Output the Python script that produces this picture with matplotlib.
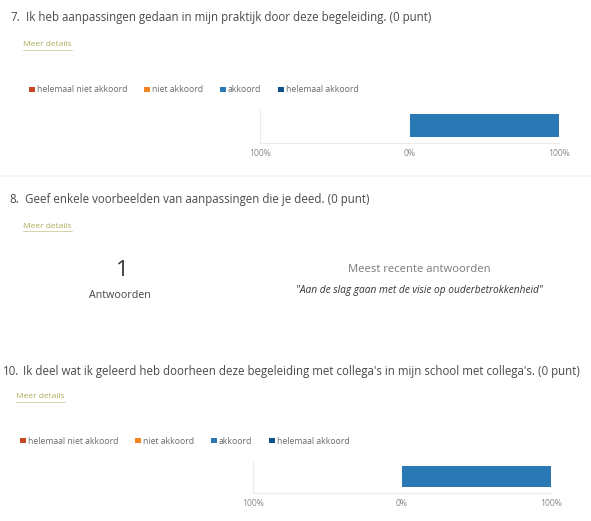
import matplotlib
matplotlib.use("Agg")
import matplotlib.pyplot as plt

plt.rcParams['font.family'] = ['Open Sans', 'DejaVu Sans']

# ---------------- data ----------------
categories = ["helemaal niet akkoord", "niet akkoord", "akkoord", "helemaal akkoord"]
cat_colors = ["#c8471f", "#f5831f", "#2b79b4", "#10508c"]
q7_values = [0, 0, 100, 0]     # percent
q10_values = [0, 0, 100, 0]    # percent
tick_values = [-100, 0, 100]
tick_labels = ["100%", "0%", "100%"]

q7_num, q7_title = "7.", "Ik heb aanpassingen gedaan in mijn praktijk door deze begeleiding. (0 punt)"
q8_num, q8_title = "8.", "Geef enkele voorbeelden van aanpassingen die je deed. (0 punt)"
q10_num, q10_title = "10.", "Ik deel wat ik geleerd heb doorheen deze begeleiding met collega's in mijn school met collega's. (0 punt)"
q8_count = 1
q8_count_label = "Antwoorden"
q8_recent_label = "Meest recente antwoorden"
q8_answers = ["\"Aan de slag gaan met de visie op ouderbetrokkenheid\""]
link_text = "Meer details"

W, H = 591, 521
fig = plt.figure(figsize=(W / 100, H / 100), dpi=100)
bg = fig.add_axes([0, 0, 1, 1])
bg.set_xlim(0, W)
bg.set_ylim(H, 0)
bg.axis("off")

TITLE_C = "#4a4a4a"
LINK_C = "#abad58"


def title(num, text, xn, xt, y):
    bg.text(xn, y + 3, num, fontsize=8.3, color=TITLE_C, va="baseline", ha="left")
    bg.text(xt, y + 3, text, fontsize=8.3, color=TITLE_C, va="baseline", ha="left")


def link(x, y):
    t = bg.text(x, y, link_text, fontsize=6.0, color=LINK_C, va="center", ha="left")
    fig.canvas.draw()
    bb = t.get_window_extent().transformed(bg.transData.inverted())
    bg.plot([bb.x0, bb.x1], [y + 4.5, y + 4.5], color=LINK_C, lw=0.5, alpha=0.7)


def px_axes(x0, x1, ytop, ybot):
    return fig.add_axes([x0 / W, 1 - ybot / H, (x1 - x0) / W, (ybot - ytop) / H])


def diverging(ax, values, legend_x, legend_y):
    handles = []
    # negatives: niet akkoord next to zero, helemaal niet further out
    lefts = [-values[1] - values[0], -values[1], 0, values[2]]
    for cat, col, v, l in zip(categories, cat_colors, values, lefts):
        b = ax.barh(0, v, left=l, height=0.7, color=col, label=cat,
                    edgecolor="none", linewidth=0)
        handles.append(b)
    ax.set_xlim(tick_values[0], tick_values[-1])
    ax.set_ylim(-0.53, 0.47)
    ax.set_xticks(tick_values)
    ax.set_xticklabels(tick_labels)
    ax.set_yticks([])
    ax.tick_params(axis="x", length=0, pad=4.0, labelsize=6.2, labelcolor="#8a8a8a")
    for s in ["top", "right"]:
        ax.spines[s].set_visible(False)
    for s in ["left", "bottom"]:
        ax.spines[s].set_color("#ececec")
        ax.spines[s].set_linewidth(0.8)
    leg = fig.legend(handles=handles, labels=categories, loc="center left",
                     bbox_to_anchor=(legend_x / W, 1 - legend_y / H), ncol=4,
                     frameon=False, fontsize=6.2, handlelength=0.66, handleheight=0.66,
                     handletextpad=0.25, columnspacing=1.95, borderpad=0, borderaxespad=0)
    for t in leg.get_texts():
        t.set_color("#6a6a6a")


# ---------- Q7 ----------
title(q7_num, q7_title, 10, 26, 18)
link(23, 45)
ax7 = px_axes(260, 559, 110, 143)
diverging(ax7, q7_values, 29, 90)

# separator
bg.plot([2, W], [176, 176], color="#f4f4f4", lw=1.5, solid_capstyle="round")

# ---------- Q8 ----------
title(q8_num, q8_title, 9, 25, 200)
link(23, 226)
bg.text(122, 271, str(q8_count), fontsize=16, color="#333333", ha="center", va="center")
bg.text(120, 295, q8_count_label, fontsize=7.7, color="#444444", ha="center", va="center")
bg.text(419, 270, q8_recent_label, fontsize=8.1, color="#7a7a7a", ha="center", va="center")
for i, a in enumerate(q8_answers):
    bg.text(419, 290 + 14 * i, a, fontsize=7.3, color="#333333", ha="center", va="center",
            style="italic")

# ---------- Q10 ----------
title(q10_num, q10_title, 3, 23, 372)
link(16, 397)
ax10 = px_axes(253, 551, 462, 493)
diverging(ax10, q10_values, 20, 441)

fig.savefig("out.png", dpi=100, facecolor="white")
